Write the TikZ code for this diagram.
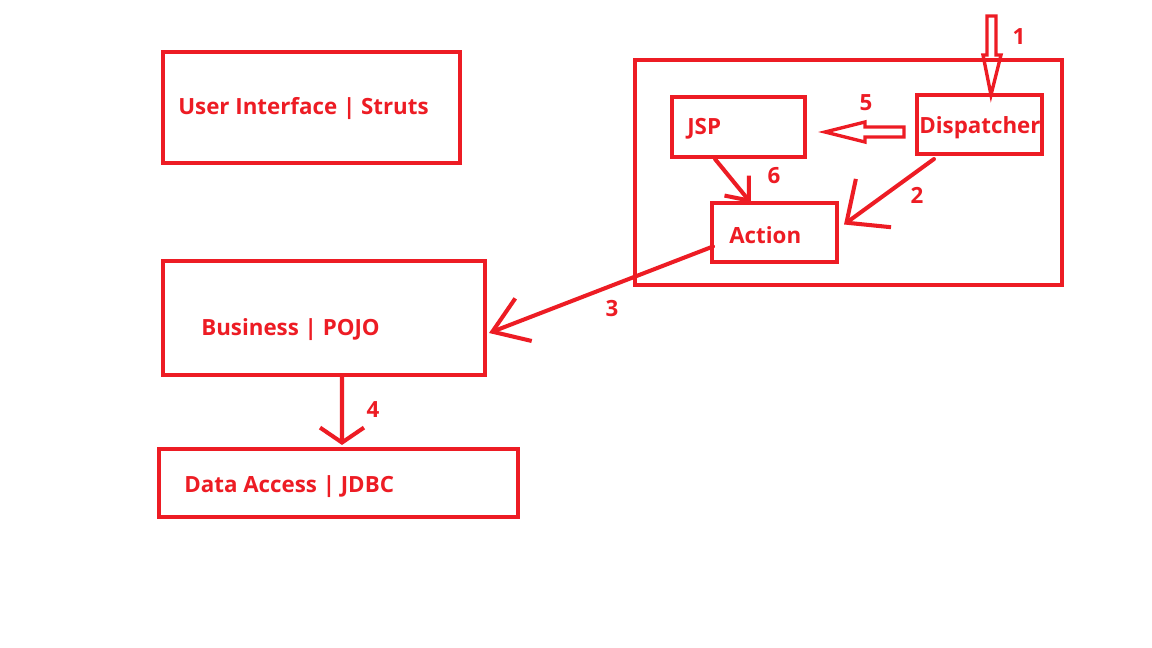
\documentclass[tikz,border=0pt]{standalone}
\usepackage{fontspec}
\setmainfont{Open Sans}
\usetikzlibrary{arrows.meta,calc,fit}
\definecolor{paint}{HTML}{ED1C24}
\tikzset{
  box/.style={draw=paint, line width=2.3pt, inner sep=0pt},
  txt/.style={text=paint, font=\fontsize{12.7}{14}\selectfont\bfseries, anchor=west, inner sep=0pt},
  num/.style={text=paint, font=\fontsize{12.7}{14}\selectfont\bfseries, inner sep=0pt},
  flow/.style={draw=paint, line width=2.3pt, line cap=round},
  hollow/.style={draw=paint, line width=1.9pt, line join=miter},
}
\begin{document}
\begin{tikzpicture}[x=0.02cm, y=-0.02cm]
  \useasboundingbox[fill=white] (0,0) rectangle (1152,648);

  % boxes
  \node[box, fit={(163,52) (460,163)}] (ui) {};
  \node[box, fit={(635,60) (1062,285)}] (web) {};
  \node[box, fit={(672,97) (805,157)}] (jsp) {};
  \node[box, fit={(917,95) (1042,154)}] (disp) {};
  \node[box, fit={(712,203) (837,262)}] (act) {};
  \node[box, fit={(163,261) (485,375)}] (biz) {};
  \node[box, fit={(159,449) (518,517)}] (data) {};

  % texts
  \node[txt] (uitxt) at ($(ui.west)+(17,1)$) {User Interface | Struts};
  \node[txt] (jsptxt) at ($(jsp.west)+(17,2)$) {JSP};
  \node[txt] (disptxt) at ($(disp.west)+(4,3)$) {Dispatcher};
  \node[txt] (acttxt) at ($(act.west)+(19,3)$) {Action};
  \node[txt] (biztxt) at ($(biz.west)+(40,12)$) {Business | POJO};
  \node[txt] (datatxt) at ($(data.west)+(27,4)$) {Data Access | JDBC};

  % hollow arrows 1 and 5
  \coordinate (tip1) at ($(disp.north west)+(76,2)$);
  \draw[hollow] ($(tip1)+(-4,-79)$) -- ++(9,0) -- ++(0,39) -- ++(5,0)
    -- (tip1) -- ($(tip1)+(-8,-40)$) -- ++(4,0) -- cycle;
  \coordinate (tip5) at ($(jsp.east)+(18,5)$);
  \draw[hollow] ($(tip5)+(79,-5)$) -- ++(0,10) -- ++(-39,0) -- ++(0,5)
    -- (tip5) -- ($(tip5)+(40,-10)$) -- ++(0,5) -- cycle;

  % open arrows
  \draw[flow, -{Straight Barb[length=19pt,width=34pt]}]
    ($(disp.south west)+(19,3)$) -- ($(act.east)+(5,-8)$);
  \draw[flow, -{Straight Barb[length=11pt,width=18pt]}]
    ($(jsp.south west)+(45,0)$) -- ($(act.north west)+(41,2)$);
  \draw[flow, -{Straight Barb[length=19pt,width=26pt]}]
    ($(act.west)+(3,14)$) -- ($(biz.east)+(2,15)$);
  \draw[flow, -{Straight Barb[length=8.5pt,width=25pt]}]
    ($(biz.south)+(18,0)$) -- ($(data.north)+(3.5,-2)$);

  % numbers
  \node[num] (n1) at (1019,37) {1};
  \node[num] (n2) at (917,195) {2};
  \node[num] (n3) at (612,309) {3};
  \node[num] (n4) at (373,410) {4};
  \node[num] (n5) at (866,103) {5};
  \node[num] (n6) at (774,176) {6};
\end{tikzpicture}
\end{document}
